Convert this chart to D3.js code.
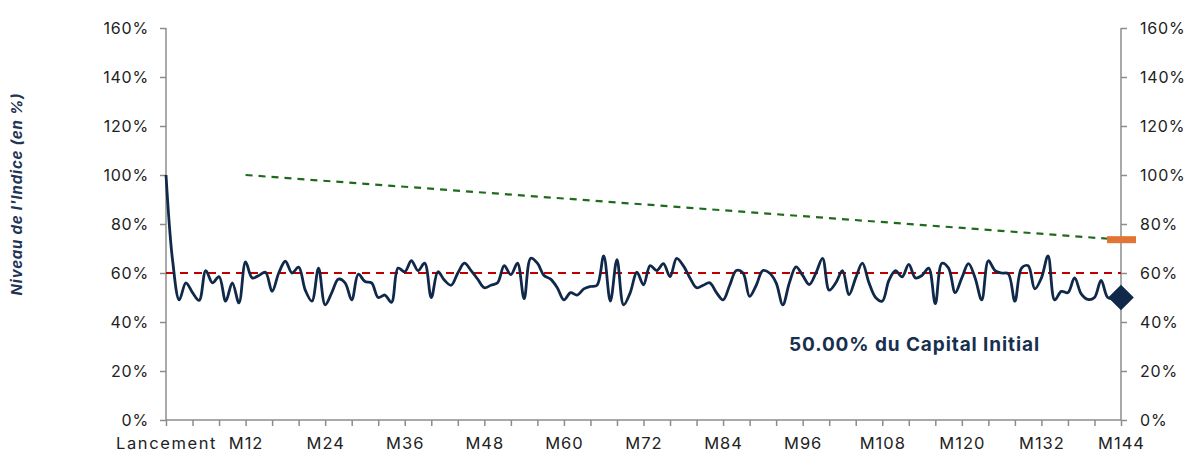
<!DOCTYPE html>
<html>
<head>
<meta charset="utf-8">
<script src="https://cdn.jsdelivr.net/npm/d3@7"></script>
<style>
  body { margin: 0; background: #fff; }
  svg text { font-family: Inter, "Open Sans", sans-serif; }
</style>
</head>
<body>
<svg id="chart" width="1189" height="456"></svg>
<script>
// niveau de l'indice, mensuel (M0..M144)
var indexLevels = [100,65,49,56,52,48.8,61,56,58.5,48.5,56,47.8,
  64.5,58,59,60.3,52.5,60,64.8,60,62.4,53,48.5,62,
  47,52,57.5,56,49,59.5,56.5,56,50,51,48,62,
  60.5,65,61,64,50,60.5,57,55,60,64,61,57.5,
  54,55,56,63,59.3,64,49.5,66,64,59,57.5,54,
  49,52,51,53.5,54.5,55,67,48.5,65.5,47,52,60.3,
  55.2,63,61,63.8,58.5,66,63,58,54,55,56,52,
  49,55,61,60,50.5,55,61,60,56,47,56,62.5,
  59,55.3,60,66,53,56,61,51.2,58,64,56,50,
  48.5,57,61,58.4,63.5,58,59,62,47.5,64,62,52,
  58,63.8,58,49,65,61,60,59.7,48.5,62,63,53.5,
  58,67,49,52.5,52,58,51.5,49.2,50,57,50,49.5,50];
var barrierMonths = [12, 144];
var barrierLevels = [100, 73.6];
var couponLevel = 60;
var finalLevel = 50;
var yTicks = [0,20,40,60,80,100,120,140,160];
var xLabels = ["Lancement","M12","M24","M36","M48","M60","M72","M84","M96","M108","M120","M132","M144"];

var svg = d3.select("#chart");
var x = d3.scaleLinear().domain([0,144]).range([166,1121]);
var y = d3.scaleLinear().domain([0,160]).range([420,28]);
var fmt = d => d + "%";

var yl = svg.append("g").attr("transform","translate(166,0)")
    .call(d3.axisLeft(y).tickValues(yTicks).tickFormat(fmt).tickSize(6).tickPadding(11));
var yr = svg.append("g").attr("transform","translate(1121,0)")
    .call(d3.axisRight(y).tickValues(yTicks).tickFormat(fmt).tickSize(6).tickPadding(13));
var xa = svg.append("g").attr("transform","translate(0,420)")
    .call(d3.axisBottom(x).tickValues(d3.range(0,145,4)).tickSize(6)
      .tickFormat(d => d % 12 === 0 ? xLabels[d/12] : "").tickPadding(11));
[yl,yr,xa].forEach(g => {
  g.select(".domain").attr("stroke","#8c8c8c").attr("stroke-width",1.5);
  g.selectAll(".tick line").attr("stroke","#8c8c8c").attr("stroke-width",1.5);
  g.selectAll("text").attr("font-size",16).attr("fill","#222").style("letter-spacing","0.8px");
});
xa.selectAll("text").attr("font-size",16.5).style("letter-spacing","1px");
xa.selectAll(".tick text").filter(d => d === 0).style("letter-spacing","1.6px");
yl.select(".domain").attr("d","M0,28V420");
yr.select(".domain").attr("d","M0,28V420");
xa.select(".domain").attr("d","M166,0H1121");

svg.append("text")
    .attr("transform","translate(22,194) rotate(-90)")
    .attr("text-anchor","middle")
    .attr("font-size",15).attr("font-weight","bold").attr("font-style","italic")
    .attr("fill","#1f3558").style("letter-spacing","0.8px")
    .text("Niveau de l'Indice (en %)");

// barrière de coupon
svg.append("line")
    .attr("x1",x(0)).attr("x2",x(144))
    .attr("y1",y(couponLevel)).attr("y2",y(couponLevel))
    .attr("stroke","#c00000").attr("stroke-width",2.2).attr("stroke-dasharray","8,6");

// seuil de remboursement anticipé
svg.append("path")
    .datum(barrierMonths.map((m,i)=>[m,barrierLevels[i]]))
    .attr("fill","none").attr("stroke","#1e6b1e").attr("stroke-width",2.2)
    .attr("stroke-dasharray","7,6")
    .attr("d",d3.line().x(d=>x(d[0])).y(d=>y(d[1])));

var line = d3.line().curve(d3.curveCatmullRom.alpha(0.5))
    .x((d,i)=>x(i)).y(d=>y(d));
svg.append("path").datum(indexLevels)
    .attr("fill","none").attr("stroke","#10294a").attr("stroke-width",2.8)
    .attr("stroke-linejoin","round")
    .attr("d",line);

svg.append("rect")
    .attr("x",x(144)-14).attr("y",y(barrierLevels[1])-3.5)
    .attr("width",29).attr("height",7).attr("fill","#e07535");

svg.append("path")
    .attr("d",d3.symbol().type(d3.symbolDiamond2).size(420)())
    .attr("transform","translate("+x(144)+","+y(finalLevel)+")")
    .attr("fill","#10294a");

svg.append("text")
    .attr("x",789).attr("y",351)
    .attr("font-size",19).attr("font-weight","bold").attr("fill","#17304f")
    .style("letter-spacing","0.9px")
    .text("50.00% du Capital Initial");
</script>
</body>
</html>
